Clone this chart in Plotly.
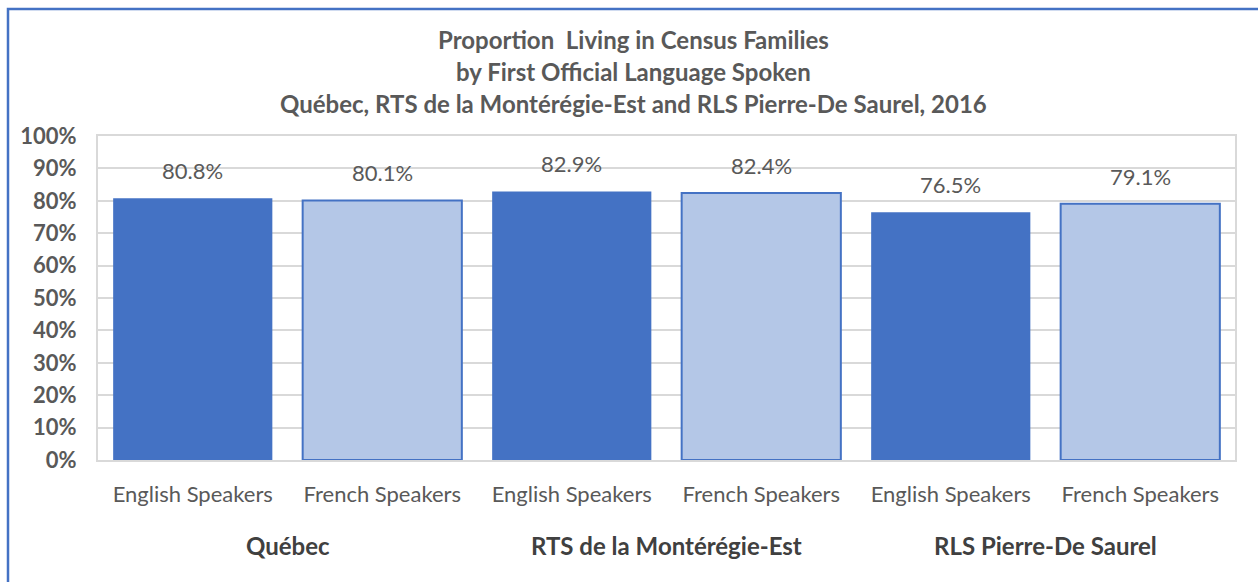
import plotly.graph_objects as go

regions = ["Québec", "RTS de la Montérégie-Est", "RLS Pierre-De Saurel"]
groups = ["English Speakers", "French Speakers"]
values = [80.8, 80.1, 82.9, 82.4, 76.5, 79.1]
labels = ["80.8%", "80.1%", "82.9%", "82.4%", "76.5%", "79.1%"]
title_lines = [
    "Proportion  Living in Census Families",
    "by First Official Language Spoken",
    "Québec, RTS de la Montérégie-Est and RLS Pierre-De Saurel, 2016",
]
y_ticks = [0, 10, 20, 30, 40, 50, 60, 70, 80, 90, 100]

W, H = 1258, 582
L, R, T, B = 98, 23, 136, 122
pw, ph = W - L - R, H - T - B

def px_x(x):
    return (x - L) / pw

def px_y(y):
    return (H - B - y) / ph

FONT = "Lato"
DARK = "#4472C4"
LIGHT = "#B4C7E7"

xs = list(range(len(values)))
ticktext = [groups[i % 2] for i in xs]
colors = [DARK if i % 2 == 0 else LIGHT for i in xs]
line_w = [0 if i % 2 == 0 else 2 for i in xs]

fig = go.Figure()
fig.add_trace(go.Bar(
    x=xs, y=values, width=0.84,
    marker=dict(color=colors, line=dict(color=DARK, width=line_w)),
    hoverinfo="skip",
))

ann = []
for x, v, t in zip(xs, values, labels):
    ann.append(dict(x=x, y=v, text=t, showarrow=False, yanchor="bottom",
                    yshift=12, font=dict(family=FONT, size=22, color="#595959")))
for i, r in enumerate(regions):
    ann.append(dict(x=2 * i + 0.5, xref="x", y=px_y(545), yref="paper", text="<b>%s</b>" % r,
                    showarrow=False, yanchor="middle",
                    font=dict(family=FONT, size=24, color="#404040")))
for i, t in enumerate(title_lines):
    ann.append(dict(x=px_x(633), xref="paper", y=px_y(39 + 32 * i), yref="paper",
                    text="<b>%s</b>" % t, showarrow=False, yanchor="middle", xanchor="center",
                    font=dict(family=FONT, size=24, color="#595959")))

fig.update_layout(
    width=W, height=H,
    margin=dict(l=L, r=R, t=T, b=B),
    paper_bgcolor="white", plot_bgcolor="white",
    showlegend=False,
    annotations=ann,
    bargap=0.16,
    shapes=[dict(type="rect", xref="paper", yref="paper",
                 x0=px_x(8), x1=px_x(1275), y0=px_y(600), y1=px_y(9),
                 line=dict(color=DARK, width=2.5), layer="above")],
)
fig.update_xaxes(
    range=[-0.5, 5.5], tickvals=xs, ticktext=ticktext,
    tickfont=dict(family=FONT, size=22, color="#595959"),
    showline=True, linecolor="#D9D9D9", linewidth=2, mirror=True,
    showgrid=False, ticks="", ticklabelstandoff=14,
)
fig.update_yaxes(
    range=[0, 100], tickvals=y_ticks, ticktext=["%d%%" % v for v in y_ticks],
    tickfont=dict(family=FONT, size=22, color="#595959", weight="bold"),
    showline=True, linecolor="#D9D9D9", linewidth=2, mirror=True,
    showgrid=True, gridcolor="#D9D9D9", gridwidth=1.5, ticks="",
    ticklabelstandoff=15, zeroline=False,
)
fig.write_html("out.html", config={"displayModeBar": False},
               post_script="document.body.style.margin='0';")
